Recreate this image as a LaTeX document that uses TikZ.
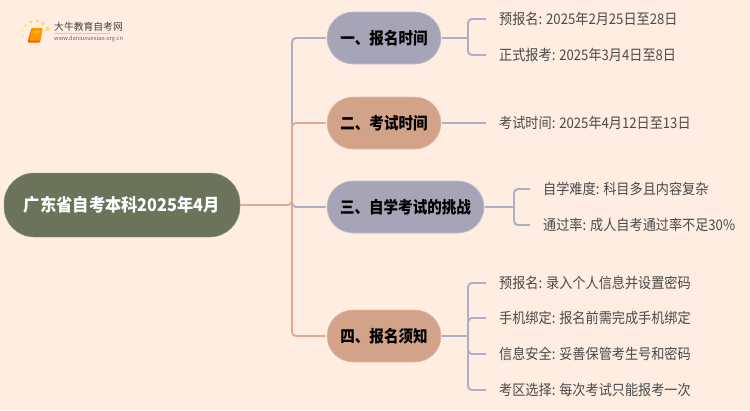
\documentclass[tikz,border=0pt]{standalone}
\usepackage{fontspec}
\setmainfont{Noto Sans CJK SC}
\newfontfamily\leaffont[FakeStretch=0.9]{Noto Sans CJK SC}
\newfontfamily\topicfont[FakeStretch=0.88]{Noto Sans CJK SC}
\newfontfamily\rootfont[FakeStretch=0.93]{Noto Sans CJK SC}
\definecolor{bgc}{HTML}{FEEDE0}
\definecolor{rootc}{HTML}{6B735B}
\definecolor{lav}{HTML}{A6A5B7}
\definecolor{sal}{HTML}{D3A389}
\definecolor{lnk}{HTML}{DDA98F}
\definecolor{lnl}{HTML}{AEAEC6}
\definecolor{txt}{HTML}{4A4A4A}
\tikzset{
 rootbox/.style={rectangle,rounded corners=30pt,fill=rootc,draw=rootc!70!white,line width=.4pt,minimum width=236pt,minimum height=64pt,inner sep=0pt,text=white,font=\rootfont\fontsize{17.5pt}{20pt}\selectfont\bfseries},
 topic/.style={rectangle,rounded corners=26pt,draw=#1!70!white,line width=.6pt,fill=#1,minimum height=52pt,inner sep=0pt,text=black,font=\topicfont\fontsize{16.5pt}{20pt}\selectfont\bfseries},
 leaf/.style={anchor=west,inner sep=0pt,text=txt,font=\leaffont\fontsize{14.6pt}{18pt}\selectfont},
 wire/.style={line width=1.9pt,rounded corners=4pt,#1},
 wire/.default={lnl}
}
\begin{document}
\begin{tikzpicture}[x=1pt,y=-1pt]
\useasboundingbox (0,0) rectangle (750,410);
\fill[bgc] (0,0) rectangle (750,410);
% logo
\foreach \a/\b/\r in {23/36/.8,22.5/30/1,25.5/25.5/1.2,31/22/1.5,37.5/21/1.7,43/24/1.8,47.5/29/2.1}{\fill[yellow!70!orange!60!bgc] (\a,\b) circle (\r);}
\fill[orange!70!red,rounded corners=1pt] (31.5,28) -- (42.5,28) -- (40,42.5) -- (27.5,42.5) -- cycle;
\fill[orange!80!yellow,rounded corners=1pt] (32,28) -- (42.5,28) -- (40.5,40.5) -- (29.5,40.5) -- cycle;
\fill[yellow!50!orange] (34,31) -- (40,31) -- (39.5,33) -- (33.5,33) -- cycle;
\node[inner sep=0pt,anchor=west,text=black!75,font=\fontsize{9.8pt}{11pt}\selectfont] (logot) at (54,27) {大牛教育自考网};
\draw[black!20,line width=.5pt] (54,33.5) -- (110,33.5);
\node[inner sep=0pt,anchor=west,text=black!60,font=\fontsize{5.7pt}{7pt}\selectfont] (logou) at (54,38.7) {www.daniuxuexiao.org.cn};
% nodes
\node[rootbox] (root) at (122,205) {广东省自考本科2025年4月};
\node[topic=lav,minimum width=114pt] (n1) at (384,38) {一、报名时间};
\node[topic=sal,minimum width=114pt] (n2) at (384,123) {二、考试时间};
\node[topic=lav,minimum width=157pt] (n3) at (405.5,207) {三、自学考试的挑战};
\node[topic=sal,minimum width=114pt] (n4) at (384,336) {四、报名须知};
\node[leaf] (a1) at (499,19) {预报名: 2025年2月25日至28日};
\node[leaf] (a2) at (499,55) {正式报考: 2025年3月4日至8日};
\node[leaf] (b1) at (499,123) {考试时间: 2025年4月12日至13日};
\node[leaf] (c1) at (543,189) {自学难度: 科目多且内容复杂};
\node[leaf] (c2) at (543,225) {通过率: 成人自考通过率不足30\%};
\node[leaf] (d1) at (499,283) {预报名: 录入个人信息并设置密码};
\node[leaf] (d2) at (499,318) {手机绑定: 报名前需完成手机绑定};
\node[leaf] (d3) at (499,354) {信息安全: 妥善保管考生号和密码};
\node[leaf] (d4) at (499,390) {考区选择: 每次考试只能报考一次};
% junctions
\coordinate (jt) at (292,205);
\coordinate (j1) at (468,38);
\coordinate (j3) at (514,207);
\coordinate (j4) at (468,336);
% wires
\draw[wire] (jt) |- ([xshift=-1pt]n1.west);
\draw[wire] (jt) |- ([xshift=-1pt]n3.west);
\draw[wire=lnk] (root.east) -- (jt) |- ([xshift=-1pt]n2.west);
\draw[wire=lnk] (jt) |- ([xshift=-1pt]n4.west);
\draw[wire] ([xshift=1pt]n1.east) -- (j1);
\draw[wire] (j1) |- ([xshift=-13pt]a1.west);
\draw[wire] (j1) |- ([xshift=-13pt]a2.west);
\draw[wire] ([xshift=1pt]n2.east) -- ([xshift=-13pt]b1.west);
\draw[wire] ([xshift=1pt]n3.east) -- (j3);
\draw[wire] (j3) |- ([xshift=-13pt]c1.west);
\draw[wire] (j3) |- ([xshift=-13pt]c2.west);
\draw[wire] ([xshift=1pt]n4.east) -- (j4);
\draw[wire] (j4) |- ([xshift=-13pt]d1.west);
\draw[wire] (j4) |- ([xshift=-13pt]d2.west);
\draw[wire] (j4) |- ([xshift=-13pt]d3.west);
\draw[wire] (j4) |- ([xshift=-13pt]d4.west);
\end{tikzpicture}
\end{document}
